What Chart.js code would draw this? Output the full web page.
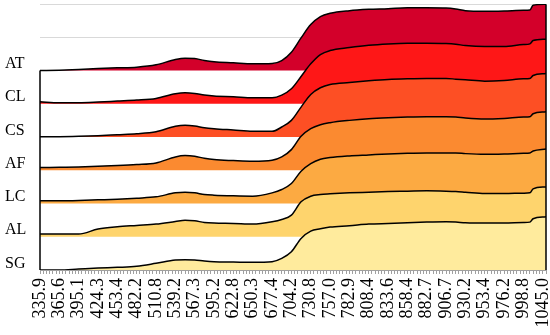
<!DOCTYPE html>
<html>
<head>
<meta charset="utf-8">
<script src="https://cdn.jsdelivr.net/npm/chart.js@4.4.0/dist/chart.umd.min.js"></script>
<style>
  html, body { margin: 0; padding: 0; background: #fff; }
  #chartDiv { width: 550px; height: 335px; }
</style>
</head>
<body>
<div id="chartDiv"><canvas id="myChart"></canvas></div>
<script>
// wavelength labels, one every 6 categories (158 categories in all)
const tickLabels = ['335.9', '365.6', '395.1', '424.3', '453.4', '482.2', '510.8', '539.2', '567.3',
  '595.2', '622.8', '650.3', '677.4', '704.2', '730.8', '757.0', '782.9', '808.4', '833.6', '858.4',
  '882.7', '906.7', '930.2', '953.4', '976.2', '998.8', '1045.0'];
const labelStep = 6;
const lastIdx = 157;

// category index of each sampled value
const sampleIdx = [0, 6, 12, 18, 24, 30, 36, 42, 45, 48, 51, 54, 60, 66, 72, 75, 78, 81, 84, 87,
  90, 96, 102, 108, 114, 120, 126, 129, 132, 138, 144, 150, 152, 153, 157];

const AT = [0.00, 0.01, 0.03, 0.06, 0.08, 0.10, 0.17, 0.33, 0.37, 0.36, 0.30, 0.26, 0.23, 0.20, 0.21, 0.30, 0.55, 0.98, 1.38, 1.62,
  1.72, 1.80, 1.84, 1.86, 1.89, 1.89, 1.88, 1.85, 1.80, 1.78, 1.79, 1.81, 1.82, 1.96, 1.99];
const CL = [0.06, 0.03, 0.03, 0.05, 0.08, 0.11, 0.16, 0.30, 0.33, 0.31, 0.26, 0.23, 0.21, 0.18, 0.18, 0.26, 0.45, 0.82, 1.20, 1.48,
  1.60, 1.69, 1.76, 1.80, 1.82, 1.82, 1.81, 1.79, 1.75, 1.72, 1.72, 1.78, 1.80, 1.90, 1.94];
const CS = [0.01, 0.01, 0.02, 0.04, 0.07, 0.10, 0.16, 0.32, 0.35, 0.33, 0.28, 0.25, 0.21, 0.17, 0.17, 0.30, 0.50, 0.90, 1.28, 1.48,
  1.58, 1.64, 1.69, 1.73, 1.75, 1.76, 1.76, 1.74, 1.72, 1.68, 1.70, 1.75, 1.76, 1.85, 1.91];
const AF = [0.08, 0.09, 0.10, 0.12, 0.14, 0.17, 0.22, 0.40, 0.44, 0.42, 0.36, 0.32, 0.29, 0.27, 0.30, 0.40, 0.62, 1.02, 1.25, 1.37,
  1.43, 1.50, 1.55, 1.58, 1.60, 1.61, 1.61, 1.60, 1.57, 1.54, 1.56, 1.60, 1.61, 1.70, 1.76];
const LC = [0.08, 0.08, 0.09, 0.11, 0.13, 0.16, 0.20, 0.32, 0.34, 0.32, 0.27, 0.25, 0.23, 0.22, 0.32, 0.42, 0.60, 0.97, 1.20, 1.33,
  1.38, 1.43, 1.46, 1.49, 1.51, 1.52, 1.52, 1.52, 1.50, 1.48, 1.49, 1.51, 1.52, 1.58, 1.64];
const AL = [0.08, 0.08, 0.08, 0.23, 0.30, 0.34, 0.38, 0.46, 0.50, 0.48, 0.43, 0.41, 0.40, 0.38, 0.45, 0.52, 0.65, 1.05, 1.22, 1.27,
  1.29, 1.32, 1.34, 1.36, 1.37, 1.38, 1.37, 1.36, 1.34, 1.30, 1.30, 1.31, 1.32, 1.44, 1.50];
const SG = [0.00, 0.00, 0.03, 0.06, 0.08, 0.11, 0.20, 0.30, 0.31, 0.30, 0.27, 0.25, 0.24, 0.23, 0.25, 0.35, 0.55, 0.95, 1.17, 1.24,
  1.29, 1.33, 1.38, 1.40, 1.42, 1.44, 1.45, 1.44, 1.42, 1.41, 1.41, 1.43, 1.44, 1.54, 1.60];

const names = ['AT', 'CL', 'CS', 'AF', 'LC', 'AL', 'SG'];
const seriesValues = [AT, CL, CS, AF, LC, AL, SG];
const colors = ['#d3002a', '#fe1717', '#fd4f24', '#fb8a30', '#fcaa42', '#fed46d', '#ffeb9d'];

var ctx = document.getElementById('myChart');

// each spectrum sits on its own baseline (AT on top, SG at the bottom)
const datasets = names.map((name, k) => {
  const offset = names.length - 1 - k;
  return {
    label: name,
    data: sampleIdx.map((x, j) => ({ x: x, y: offset + seriesValues[k][j] })),
    backgroundColor: colors[k],
    borderColor: '#000',
    borderWidth: 1.5,
    fill: { value: offset },
    pointRadius: 0,
    cubicInterpolationMode: 'monotone',
    order: offset
  };
});

// black vertical edges at the ends of the stack
const edgeLines = {
  id: 'edgeLines',
  afterDatasetsDraw(chart) {
    const xs = chart.scales.x, ys = chart.scales.y;
    const top = chart.data.datasets[0].data;
    const c = chart.ctx;
    c.save();
    c.strokeStyle = '#000';
    c.lineWidth = 1.5;
    [top[0], top[top.length - 1]].forEach(p => {
      const px = xs.getPixelForValue(p.x);
      c.beginPath();
      c.moveTo(px, ys.getPixelForValue(p.y));
      c.lineTo(px, ys.getPixelForValue(0));
      c.stroke();
    });
    c.restore();
  }
};

const isWhole = v => Math.abs(v - Math.round(v)) < 0.01;

var options = {
  responsive: true,
  maintainAspectRatio: false,
  animation: false,
  layout: { padding: { left: 5, top: 4, right: 4, bottom: 0 } },
  plugins: { legend: { display: false }, tooltip: { enabled: false } },
  scales: {
    x: {
      type: 'linear',
      min: 0,
      max: lastIdx,
      z: 1,
      ticks: {
        stepSize: 1,
        autoSkip: false,
        maxRotation: 90,
        minRotation: 90,
        padding: 4,
        color: '#000',
        font: { family: 'Liberation Serif', size: 18 },
        callback: v => {
          const i = Math.round(v);
          return (i % labelStep === 0 && tickLabels[i / labelStep]) ? tickLabels[i / labelStep] : '';
        }
      },
      grid: { drawOnChartArea: false, tickLength: 4, color: '#a0a0a0' },
      border: { color: '#a0a0a0' },
      afterFit: s => { s.height = 65; s.paddingLeft = 0; s.paddingRight = 0; }
    },
    y: {
      min: 0,
      max: 8,
      afterBuildTicks: s => {
        const vals = names.map((n, k) => names.length - 1 - k + 0.2).reverse().concat([7, 8]);
        s.ticks = vals.map(v => ({ value: v }));
      },
      ticks: {
        autoSkip: false,
        crossAlign: 'far',
        color: '#000',
        font: { family: 'Liberation Serif', size: 16 },
        callback: v => isWhole(v) ? '' : names[names.length - 1 - Math.round(v - 0.2)]
      },
      grid: {
        drawTicks: false,
        color: c => (c.tick && isWhole(c.tick.value)) ? '#d9d9d9' : 'rgba(0,0,0,0)'
      },
      border: { display: false },
      afterFit: s => { s.width = 35; s.paddingTop = 0; s.paddingBottom = 0; }
    }
  }
};

var SpectraChart = new Chart(ctx, {
  type: 'line',
  data: { datasets: datasets },
  options: options,
  plugins: [edgeLines]
});
</script>
</body>
</html>
